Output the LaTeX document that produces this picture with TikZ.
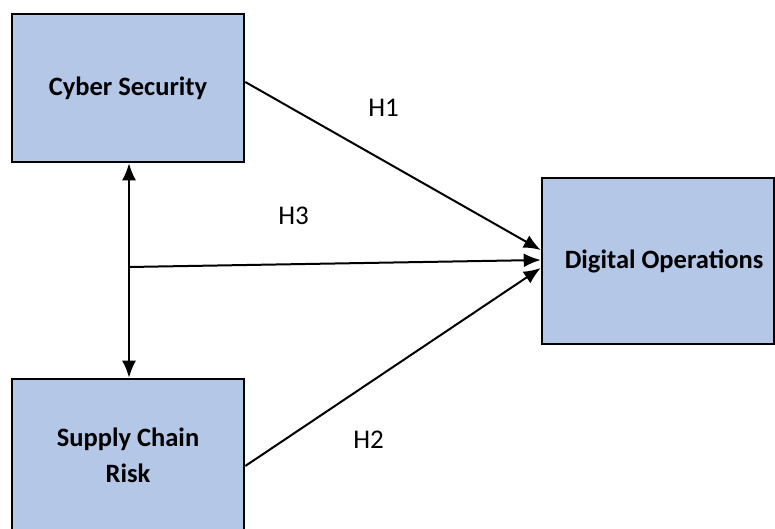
\documentclass[tikz,border=0pt]{standalone}
\usepackage{fontspec}
\setmainfont{Carlito}
\usetikzlibrary{arrows.meta,calc}
\definecolor{boxblue}{HTML}{B4C7E7}
\begin{document}
\begin{tikzpicture}[x=1pt,y=-1pt,
  varbox/.style={draw=black,line width=2.6pt,fill=boxblue,minimum width=232pt,align=center,inner sep=0pt},
  boxtext/.style={font=\bfseries\fontsize{26.5}{36}\selectfont,align=center,inner sep=0pt},
  link/.style={line width=2pt,-{Latex[length=17pt,width=14pt]}},
  hlabel/.style={font=\fontsize{27}{32}\selectfont,inner sep=0pt}]
\useasboundingbox[fill=white] (0,0) rectangle (775,529);
\node[varbox,minimum height=148pt] (cs) at (128,88) {};
\node[boxtext] (cstext) at (128,88) {Cyber Security};
\node[varbox,minimum height=166pt] (do) at (658,261) {};
\node[boxtext] (dotext) at (664,261) {Digital Operations};
\node[varbox,minimum height=160pt] (sc) at (128,459) {};
\node[boxtext] (sctext) at (128,455) {Supply Chain\\Risk};
\coordinate (m) at (129,267);
\draw[link] ($(cs.east)+(0,-6)$) -- ($(do.west)+(0,-11)$);
\draw[link] ($(sc.east)+(0,7)$) -- ($(do.west)+(0,7)$);
\draw[link] (m) -- ($(do.west)+(0,-1)$);
\draw[line width=2pt,{Latex[length=17pt,width=14pt]}-{Latex[length=17pt,width=14pt]}] (cs.south -| m) -- (sc.north -| m);
\node[hlabel] (h1) at (383.5,108) {H1};
\node[hlabel] (h3) at (293.5,216) {H3};
\node[hlabel] (h2) at (368.5,440) {H2};
\end{tikzpicture}
\end{document}
